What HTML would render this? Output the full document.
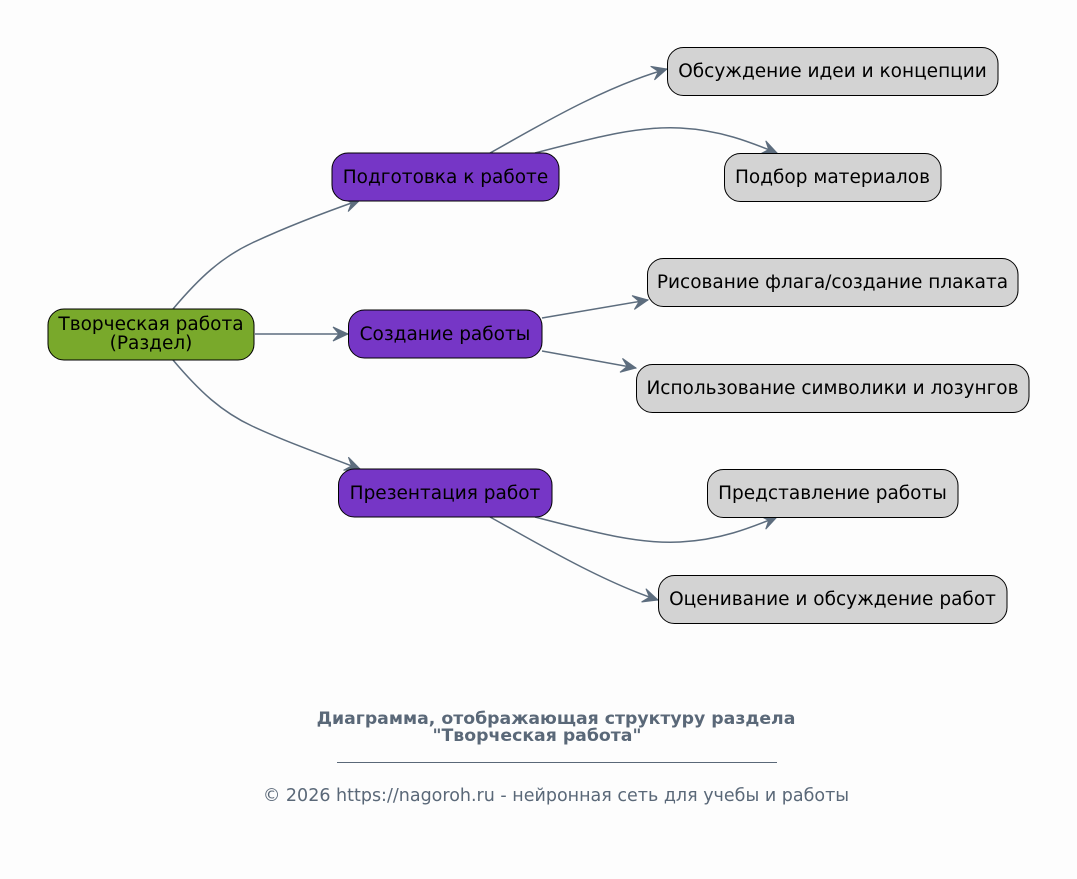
<!DOCTYPE html>
<html><head><meta charset="utf-8"><style>
html,body{margin:0;padding:0;background:#fdfdfd;}
svg{display:block;}
text{font-family:"DejaVu Sans","Liberation Sans",sans-serif;}
</style></head><body>
<svg width="1077" height="879" viewBox="0 0 1077 879" xmlns="http://www.w3.org/2000/svg">
<defs>
<marker id="v" markerUnits="userSpaceOnUse" markerWidth="20" markerHeight="20" refX="0" refY="0" viewBox="-16 -10 20 20" orient="auto" overflow="visible">
<path d="M0,0 L-15,-7 L-9,0 L-15,7 Z" fill="#5d6d7e" stroke="#5d6d7e" stroke-width="1"/>
</marker>
</defs>
<rect width="1077" height="879" fill="#fdfdfd"/>
<g fill="none" stroke="#5d6d7e" stroke-width="1.5" marker-end="url(#v)">
<path d="M173,309 C200,277 222,257 252,243 C282,229 320,214 360,200"/>
<path d="M255,334 L348,334"/>
<path d="M173,360 C200,392 222,412 252,426 C282,440 320,454 360,469"/>
<path d="M490,153 C530,131 600,88 667,69"/>
<path d="M535,153 C600,136 640,126 680,128 C720,130 750,142 777,153"/>
<path d="M542,318 L648,300"/>
<path d="M542,351 L636,368"/>
<path d="M535,517 C600,534 640,544 680,542 C720,540 750,528 777,517"/>
<path d="M490,517 C530,539 600,581 658,600"/>
</g>
<g stroke="#000" stroke-width="1">
<rect x="48" y="309" width="206" height="51" rx="16" fill="#79a92b"/>
<rect x="332" y="153" width="227" height="48" rx="16" fill="#7636c6"/>
<rect x="348.5" y="310" width="193.5" height="48" rx="16" fill="#7636c6"/>
<rect x="338.5" y="469" width="213.5" height="48" rx="16" fill="#7636c6"/>
<rect x="667.5" y="47.5" width="330.5" height="48" rx="16" fill="#d3d3d3"/>
<rect x="724.5" y="153.5" width="216.5" height="48" rx="16" fill="#d3d3d3"/>
<rect x="647.5" y="258.5" width="370.5" height="48" rx="16" fill="#d3d3d3"/>
<rect x="636.5" y="364.5" width="392.5" height="48" rx="16" fill="#d3d3d3"/>
<rect x="707.5" y="469.5" width="250.5" height="48" rx="16" fill="#d3d3d3"/>
<rect x="658.5" y="575.5" width="348.5" height="48" rx="16" fill="#d3d3d3"/>
</g>
<g font-size="18.5" fill="#000" text-anchor="middle">
<text x="151" y="330">Творческая работа</text>
<text x="151" y="349">(Раздел)</text>
<text x="445.5" y="183">Подготовка к работе</text>
<text x="445" y="340">Создание работы</text>
<text x="445" y="499">Презентация работ</text>
<text x="832.5" y="77">Обсуждение идеи и концепции</text>
<text x="832.5" y="183">Подбор материалов</text>
<text x="832.5" y="288">Рисование флага/создание плаката</text>
<text x="832.5" y="394">Использование символики и лозунгов</text>
<text x="832.5" y="499">Представление работы</text>
<text x="832.5" y="605">Оценивание и обсуждение работ</text>
</g>
<g fill="#5a6878" text-anchor="middle">
<text x="556" y="724" font-size="17.3" font-weight="bold">Диаграмма, отображающая структуру раздела</text>
<text x="537" y="741" font-size="17.3" font-weight="bold">"Творческая работа"</text>
<line x1="337" y1="762.5" x2="777" y2="762.5" stroke="#5a6878" stroke-width="1"/>
<text x="556" y="801" font-size="17.5">© 2026 https://nagoroh.ru - нейронная сеть для учебы и работы</text>
</g>
</svg>
</body></html>
